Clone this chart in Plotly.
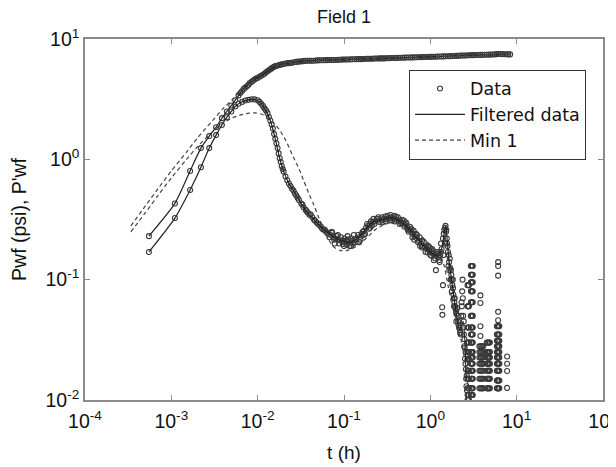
import plotly.graph_objects as go

# ---------------- data ----------------
# Pressure (Pwf) measured data: (t [h], Pwf [psi])
pwf_data = [
    (0.00055, 0.23), (0.0011, 0.43), (0.00165, 0.80), (0.0022, 1.24), (0.00275, 1.56),
    (0.0033, 1.85), (0.00385, 2.2), (0.0044, 2.5), (0.00495, 2.8), (0.0055, 3.1),
    (0.006, 3.4), (0.0066, 3.7), (0.0072, 3.95), (0.0078, 4.15), (0.0085, 4.4),
    (0.0092, 4.6), (0.01, 4.75), (0.011, 4.95), (0.012, 5.15), (0.013, 5.4),
    (0.014, 5.6), (0.015, 5.8), (0.016, 5.95), (0.0175, 6.05), (0.019, 6.15),
    (0.021, 6.25), (0.023, 6.3), (0.025, 6.35), (0.028, 6.45), (0.031, 6.5),
    (0.034, 6.55), (0.038, 6.6), (0.042, 6.6), (0.047, 6.62), (0.052, 6.65),
    (0.058, 6.65), (0.065, 6.68), (0.072, 6.7), (0.08, 6.7), (0.09, 6.72),
    (0.1, 6.75), (0.11, 6.75), (0.125, 6.78), (0.14, 6.8), (0.155, 6.8),
    (0.17, 6.82), (0.19, 6.85), (0.21, 6.85), (0.235, 6.88), (0.26, 6.9),
    (0.29, 6.9), (0.32, 6.92), (0.36, 6.95), (0.4, 6.95), (0.45, 6.98),
    (0.5, 7.0), (0.56, 7.02), (0.62, 7.03), (0.7, 7.05), (0.78, 7.07),
    (0.87, 7.08), (0.97, 7.1), (1.08, 7.12), (1.2, 7.14), (1.35, 7.16),
    (1.5, 7.18), (1.7, 7.2), (1.9, 7.23), (2.1, 7.25), (2.35, 7.28),
    (2.6, 7.3), (2.9, 7.33), (3.2, 7.35), (3.6, 7.37), (4.0, 7.38),
    (4.5, 7.4), (5.0, 7.42), (5.6, 7.45), (6.2, 7.5), (6.9, 7.48),
    (7.7, 7.46), (8.4, 7.45),
    (0.0063, 3.55), (0.0069, 3.85), (0.0075, 4.05), (0.0081, 4.3), (0.0088, 4.5),
    (0.0096, 4.7), (0.0105, 4.85), (0.0115, 5.05), (0.0125, 5.3), (0.0135, 5.5),
    (0.0145, 5.7), (0.0155, 5.88), (0.0168, 6.0), (0.0182, 6.1), (0.02, 6.2),
    (0.022, 6.28), (0.024, 6.33), (0.0265, 6.4), (0.0295, 6.48), (0.0325, 6.52),
    (0.036, 6.58), (0.04, 6.6), (0.0445, 6.6), (0.0495, 6.64), (0.055, 6.65),
    (0.0615, 6.67), (0.068, 6.69), (0.076, 6.7), (0.085, 6.71), (0.095, 6.74),
    (0.105, 6.75), (0.118, 6.77), (0.132, 6.79), (0.147, 6.8), (0.162, 6.81),
    (0.18, 6.84), (0.2, 6.85), (0.222, 6.87), (0.248, 6.89), (0.275, 6.9),
    (0.305, 6.91), (0.34, 6.94), (0.38, 6.95), (0.425, 6.97), (0.475, 6.99),
    (0.53, 7.01), (0.59, 7.02), (0.66, 7.04), (0.74, 7.06), (0.82, 7.07),
    (0.92, 7.09), (1.02, 7.11), (1.14, 7.13), (1.27, 7.15), (1.42, 7.17),
    (1.6, 7.19), (1.8, 7.22), (2.0, 7.24), (2.22, 7.27), (2.48, 7.29),
    (2.75, 7.32), (3.05, 7.34), (3.4, 7.36), (3.8, 7.38), (4.25, 7.39),
    (4.75, 7.41), (5.3, 7.44), (5.9, 7.48), (6.55, 7.49), (7.3, 7.47), (8.0, 7.45),
]

# Derivative (P'wf) measured data: (t [h], P'wf)
dpwf_data = [
    (0.00055, 0.17), (0.0011, 0.325), (0.00165, 0.556), (0.0022, 0.86), (0.00275, 1.24),
    (0.0033, 1.59), (0.00385, 1.93), (0.0044, 2.24), (0.00495, 2.5), (0.0055, 2.75),
    (0.006, 2.9), (0.0066, 3.0), (0.0072, 3.08), (0.0078, 3.12), (0.0085, 3.15),
    (0.0092, 3.15), (0.01, 3.1), (0.0105, 3.0), (0.011, 2.9), (0.0115, 2.78),
    (0.012, 2.65), (0.0125, 2.55), (0.013, 2.42), (0.0135, 2.25), (0.014, 2.1),
    (0.0145, 1.95), (0.015, 1.8), (0.0155, 1.62), (0.016, 1.48), (0.0165, 1.36),
    (0.017, 1.24), (0.0175, 1.12), (0.018, 1.02), (0.0185, 0.95), (0.019, 0.88),
    (0.0195, 0.83), (0.02, 0.79), (0.021, 0.72), (0.022, 0.67), (0.023, 0.63),
    (0.024, 0.6), (0.025, 0.57), (0.026, 0.55), (0.027, 0.52), (0.028, 0.5),
    (0.029, 0.48), (0.03, 0.46), (0.032, 0.43), (0.034, 0.4), (0.036, 0.38),
    (0.038, 0.36), (0.04, 0.345), (0.043, 0.33), (0.046, 0.31), (0.05, 0.29),
    (0.054, 0.275), (0.058, 0.26), (0.062, 0.25), (0.066, 0.24), (0.07, 0.235),
    (0.075, 0.225), (0.08, 0.22), (0.085, 0.215), (0.09, 0.212), (0.095, 0.21),
    (0.1, 0.207), (0.105, 0.21), (0.11, 0.205), (0.118, 0.2), (0.125, 0.21),
    (0.133, 0.215), (0.14, 0.22), (0.15, 0.225), (0.16, 0.24), (0.17, 0.255),
    (0.18, 0.27), (0.19, 0.28), (0.2, 0.29), (0.215, 0.3), (0.23, 0.305),
    (0.25, 0.31), (0.27, 0.315), (0.29, 0.32), (0.31, 0.32), (0.33, 0.325),
    (0.35, 0.328), (0.37, 0.325), (0.39, 0.32), (0.41, 0.315), (0.43, 0.31),
    (0.45, 0.305), (0.48, 0.295), (0.51, 0.285), (0.54, 0.27), (0.57, 0.26),
    (0.6, 0.25), (0.63, 0.24), (0.66, 0.23), (0.7, 0.22), (0.74, 0.21),
    (0.78, 0.2), (0.82, 0.19), (0.87, 0.185), (0.92, 0.18), (0.97, 0.175),
    (1.02, 0.17), (1.07, 0.165), (1.12, 0.16), (1.18, 0.158), (1.24, 0.155),
    (1.3, 0.16), (1.35, 0.18), (1.4, 0.22), (1.45, 0.26), (1.5, 0.28),
    (1.55, 0.22), (1.6, 0.17), (1.65, 0.14), (1.7, 0.125), (1.75, 0.11),
    (1.8, 0.09), (1.85, 0.075), (1.9, 0.065), (1.95, 0.058), (2.0, 0.052),
    (2.1, 0.045), (2.2, 0.038), (2.28, 0.05), (2.34, 0.08), (2.4, 0.05),
    (2.45, 0.035), (2.5, 0.027), (2.55, 0.02), (2.6, 0.015), (2.66, 0.012),
    # band spread / noise
    (0.033, 0.42), (0.037, 0.37), (0.041, 0.35), (0.045, 0.315), (0.048, 0.3),
    (0.052, 0.285), (0.056, 0.265), (0.06, 0.26), (0.064, 0.245),
    (0.068, 0.225), (0.073, 0.245), (0.077, 0.215), (0.082, 0.23), (0.088, 0.2),
    (0.092, 0.225), (0.097, 0.198), (0.102, 0.22), (0.107, 0.195), (0.113, 0.215),
    (0.116, 0.19), (0.122, 0.22), (0.128, 0.2), (0.136, 0.205), (0.145, 0.235),
    (0.155, 0.215), (0.165, 0.25), (0.175, 0.24), (0.185, 0.29), (0.195, 0.265),
    (0.205, 0.305), (0.21, 0.28), (0.225, 0.29), (0.24, 0.32), (0.26, 0.3),
    (0.275, 0.33), (0.3, 0.335), (0.305, 0.305), (0.34, 0.31), (0.345, 0.345),
    (0.38, 0.34), (0.385, 0.305), (0.42, 0.33), (0.46, 0.295), (0.49, 0.31),
    (0.5, 0.275), (0.53, 0.29), (0.55, 0.26), (0.58, 0.275), (0.62, 0.225),
    (0.64, 0.255), (0.68, 0.24), (0.72, 0.205), (0.75, 0.225), (0.8, 0.185),
    (0.84, 0.205), (0.9, 0.19), (0.93, 0.168), (0.98, 0.185), (1.03, 0.158),
    (1.09, 0.172), (1.14, 0.15), (1.22, 0.165), (1.26, 0.145), (1.32, 0.17),
    (0.072, 0.25), (0.078, 0.2), (0.085, 0.235), (0.1, 0.19), (0.11, 0.23),
    (0.12, 0.19), (0.13, 0.235), (0.15, 0.205), (0.17, 0.235), (0.2, 0.27),
    (0.22, 0.32), (0.25, 0.33), (0.28, 0.3), (0.32, 0.34), (0.36, 0.31),
    (0.4, 0.335), (0.44, 0.29), (0.47, 0.315), (0.52, 0.3), (0.56, 0.25),
    (0.6, 0.265), (0.65, 0.215), (0.7, 0.235), (0.76, 0.19), (0.8, 0.21),
    (0.88, 0.17), (0.95, 0.19), (1.0, 0.16), (1.05, 0.18), (1.1, 0.145),
    (1.16, 0.12), (1.2, 0.17), (1.28, 0.14), (1.33, 0.2), (1.37, 0.059),
    (1.38, 0.051), (1.4, 0.09), (1.42, 0.16), (1.47, 0.2), (1.52, 0.25),
    (1.58, 0.19), (1.62, 0.13), (1.68, 0.15), (1.72, 0.1), (1.78, 0.08),
    (1.82, 0.1), (1.88, 0.06), (1.92, 0.07), (2.0, 0.045), (2.05, 0.058),
    (2.15, 0.04), (2.25, 0.035), (2.3, 0.065), (2.36, 0.1), (2.38, 0.07),
    (2.42, 0.04), (2.48, 0.032), (2.52, 0.022), (2.58, 0.018), (2.62, 0.013),
    (1.43, 0.24), (1.48, 0.27), (1.53, 0.26), (1.56, 0.2), (1.63, 0.16),
    (1.66, 0.12), (1.73, 0.12), (1.77, 0.1), (1.83, 0.085), (1.87, 0.07),
    (1.93, 0.06), (1.98, 0.055), (2.08, 0.05), (2.12, 0.042), (2.18, 0.04),
    (2.22, 0.036), (2.32, 0.06), (2.44, 0.045), (2.47, 0.028), (2.56, 0.025),
    (2.64, 0.016),
    # isolated late-time points
    (3.8, 0.074), (3.8, 0.064), (3.8, 0.041), (3.8, 0.034),
    (6.1, 0.14), (6.1, 0.13), (6.1, 0.108), (6.1, 0.054), (6.1, 0.046),
    (7.75, 0.023), (7.75, 0.02), (7.75, 0.0174), (7.75, 0.0126),
]

# Late-time quantised scatter columns: (times of the column, derivative levels seen)
late_columns = [
    ([2.7, 2.75, 2.8], [0.09, 0.06, 0.04, 0.03, 0.025, 0.022, 0.0175, 0.015, 0.0125, 0.011, 0.01]),
    ([2.95, 3.0, 3.05, 3.1], [0.13, 0.11, 0.095, 0.08, 0.065, 0.05, 0.04, 0.035, 0.03, 0.025,
                             0.0225, 0.02, 0.0175, 0.015, 0.0125, 0.011]),
    ([3.7, 3.8, 3.9, 4.0, 4.1], [0.0125, 0.015, 0.0175, 0.02, 0.0225, 0.025, 0.028]),
    ([4.5, 4.6, 4.7, 4.8, 4.9], [0.0125, 0.015, 0.0175, 0.02, 0.0225, 0.025, 0.03]),
    ([5.9, 6.0, 6.1, 6.2, 6.3], [0.0125, 0.0145, 0.0175, 0.02, 0.0225, 0.025, 0.028,
                                0.031, 0.035, 0.041]),
]

# Filtered data curves
filt_p_t = [0.00055, 0.0011, 0.00165, 0.0022, 0.00275, 0.0033, 0.00385, 0.0044, 0.00495,
            0.0055, 0.007, 0.009, 0.011, 0.014, 0.018, 0.025, 0.04, 0.1, 0.3, 1, 3, 8.4]
filt_p = [0.23, 0.43, 0.80, 1.24, 1.56, 1.85, 2.2, 2.5, 2.8,
          3.1, 3.9, 4.6, 4.95, 5.6, 6.1, 6.35, 6.6, 6.75, 6.9, 7.1, 7.35, 7.45]
filt_d_t = [0.00055, 0.0011, 0.00165, 0.0022, 0.00275, 0.0033, 0.00385, 0.0044, 0.00495,
            0.0055, 0.0065, 0.0078, 0.009, 0.0105, 0.012, 0.014, 0.016, 0.018, 0.02,
            0.023, 0.026, 0.03, 0.035, 0.04, 0.05, 0.065, 0.09, 0.12, 0.16, 0.2,
            0.27, 0.35, 0.45, 0.55, 0.7, 0.85, 1.0, 1.2, 1.35, 1.5, 1.65, 1.8, 2.0,
            2.2, 2.4, 2.6]
filt_d = [0.17, 0.325, 0.556, 0.86, 1.24, 1.59, 1.93, 2.24, 2.5,
          2.75, 3.0, 3.12, 3.15, 3.0, 2.65, 2.1, 1.48, 1.02, 0.79,
          0.63, 0.55, 0.46, 0.39, 0.345, 0.29, 0.245, 0.212, 0.205, 0.24, 0.29,
          0.315, 0.328, 0.305, 0.27, 0.22, 0.19, 0.17, 0.157, 0.18, 0.28, 0.14, 0.09, 0.052,
          0.038, 0.045, 0.015]

# Model "Min 1"
model_p_t = [0.00034, 0.0005, 0.0007, 0.001, 0.0015, 0.002, 0.003, 0.004, 0.005, 0.0065,
             0.008, 0.01, 0.013, 0.017, 0.022, 0.03, 0.04, 0.06, 0.1, 0.2, 0.4, 1, 2, 4, 8.4]
model_p = [0.28, 0.41, 0.57, 0.8, 1.15, 1.5, 2.1, 2.65, 3.1, 3.75,
           4.3, 4.95, 5.6, 6.0, 6.25, 6.45, 6.55, 6.65, 6.75, 6.85, 6.95, 7.1, 7.25, 7.38, 7.45]
model_d_t = [0.00034, 0.0005, 0.0007, 0.001, 0.0015, 0.002, 0.003, 0.004, 0.005, 0.0065,
             0.008, 0.0095, 0.011, 0.013, 0.015, 0.018, 0.021, 0.026, 0.03, 0.034,
             0.04, 0.044, 0.05, 0.06, 0.074, 0.09, 0.11, 0.14, 0.18, 0.23, 0.3, 0.4,
             0.55, 0.7, 0.9, 1.1, 1.3, 1.45, 1.6, 1.8, 2.0, 2.3, 2.6, 2.8]
model_d = [0.25, 0.36, 0.5, 0.7, 1.0, 1.27, 1.7, 2.0, 2.2, 2.35,
           2.42, 2.43, 2.38, 2.25, 2.05, 1.75, 1.45, 1.04, 0.84, 0.67,
           0.5, 0.43, 0.34, 0.25, 0.19, 0.175, 0.175, 0.19, 0.22, 0.26, 0.29, 0.305,
           0.29, 0.25, 0.21, 0.18, 0.16, 0.13, 0.09, 0.06, 0.045, 0.03, 0.018, 0.011]

x_tickvals = [1e-4, 1e-3, 1e-2, 1e-1, 1e0, 1e1, 1e2]
x_ticktext = ["10<sup>-4</sup>", "10<sup>-3</sup>", "10<sup>-2</sup>", "10<sup>-1</sup>",
              "10<sup>0</sup>", "10<sup>1</sup>", "10<sup>2</sup>"]
y_tickvals = [1e-2, 1e-1, 1e0, 1e1]
y_ticktext = ["10<sup>-2</sup>", "10<sup>-1</sup>", "10<sup>0</sup>", "10<sup>1</sup>"]

# ---------------- figure ----------------
FONT = "Liberation Sans, Arial, Helvetica, sans-serif"
LEG_FONT = "DejaVu Sans, Liberation Sans, sans-serif"
TXT = "#111111"

late_t, late_v = [], []
for times, levels in late_columns:
    for tt in times:
        for lv in levels:
            late_t.append(tt)
            late_v.append(lv)

d_t = [a for a, b in dpwf_data] + late_t
d_v = [b for a, b in dpwf_data] + late_v

fig = go.Figure()
mk = dict(symbol="circle-open", size=5, color="#3a3a3a", line=dict(width=1.1, color="#3a3a3a"))

fig.add_trace(go.Scatter(x=[a for a, b in pwf_data], y=[b for a, b in pwf_data],
                         mode="markers", marker=mk, name="Data", legendgroup="data"))
fig.add_trace(go.Scatter(x=d_t, y=d_v, mode="markers", marker=mk, name="Data",
                         legendgroup="data", showlegend=False))
line_f = dict(color="#222222", width=1.2, shape="spline", smoothing=0.6)
fig.add_trace(go.Scatter(x=filt_p_t, y=filt_p, mode="lines", line=line_f,
                         name="Filtered data", legendgroup="filt"))
fig.add_trace(go.Scatter(x=filt_d_t, y=filt_d, mode="lines", line=line_f,
                         name="Filtered data", legendgroup="filt", showlegend=False))
line_m = dict(color="#444444", width=1.2, dash="4px,3px", shape="spline", smoothing=0.6)
fig.add_trace(go.Scatter(x=model_p_t, y=model_p, mode="lines", line=line_m,
                         name="Min 1", legendgroup="model"))
fig.add_trace(go.Scatter(x=model_d_t, y=model_d, mode="lines", line=line_m,
                         name="Min 1", legendgroup="model", showlegend=False))

axis_common = dict(
    type="log", showgrid=False, zeroline=False, showline=True, mirror="ticks",
    linecolor="#8a8a8a", linewidth=1.5, ticks="inside", ticklen=5, tickcolor="#8a8a8a",
    tickfont=dict(family=FONT, size=19.5, color=TXT), automargin=False,
    ticklabeloverflow="allow",
)

fig.update_xaxes(range=[-4, 2], tickmode="array", tickvals=x_tickvals, ticktext=x_ticktext,
                 ticklabelstandoff=3,
                 title=dict(text="t (h)", font=dict(family=FONT, size=19, color=TXT)),
                 **axis_common)
fig.update_yaxes(range=[-2, 1], tickmode="array", tickvals=y_tickvals, ticktext=y_ticktext,
                 title=dict(text="Pwf (psi), P'wf", font=dict(family=FONT, size=19.5, color=TXT)),
                 **axis_common)

# page body adds an 8 px margin, so the figure is 8 px smaller and offset
W, H = 608, 459
fig.update_layout(
    width=W, height=H,
    margin=dict(l=77, r=13, t=31, b=67, autoexpand=False),
    paper_bgcolor="white", plot_bgcolor="white",
    title=dict(text="Field 1", x=336 / W, xanchor="center",
               y=1 - 2 / H, yref="container", yanchor="top", pad=dict(t=0, b=0),
               font=dict(family=FONT, size=18, color=TXT)),
    legend=dict(x=0.6255, y=0.915, xanchor="left", yanchor="top",
                bgcolor="white", bordercolor="#333333", borderwidth=1,
                font=dict(family=LEG_FONT, size=17.5, color=TXT),
                tracegroupgap=0, itemwidth=50),
    font=dict(family=FONT),
    showlegend=True,
)

fig.write_html("out.html")
